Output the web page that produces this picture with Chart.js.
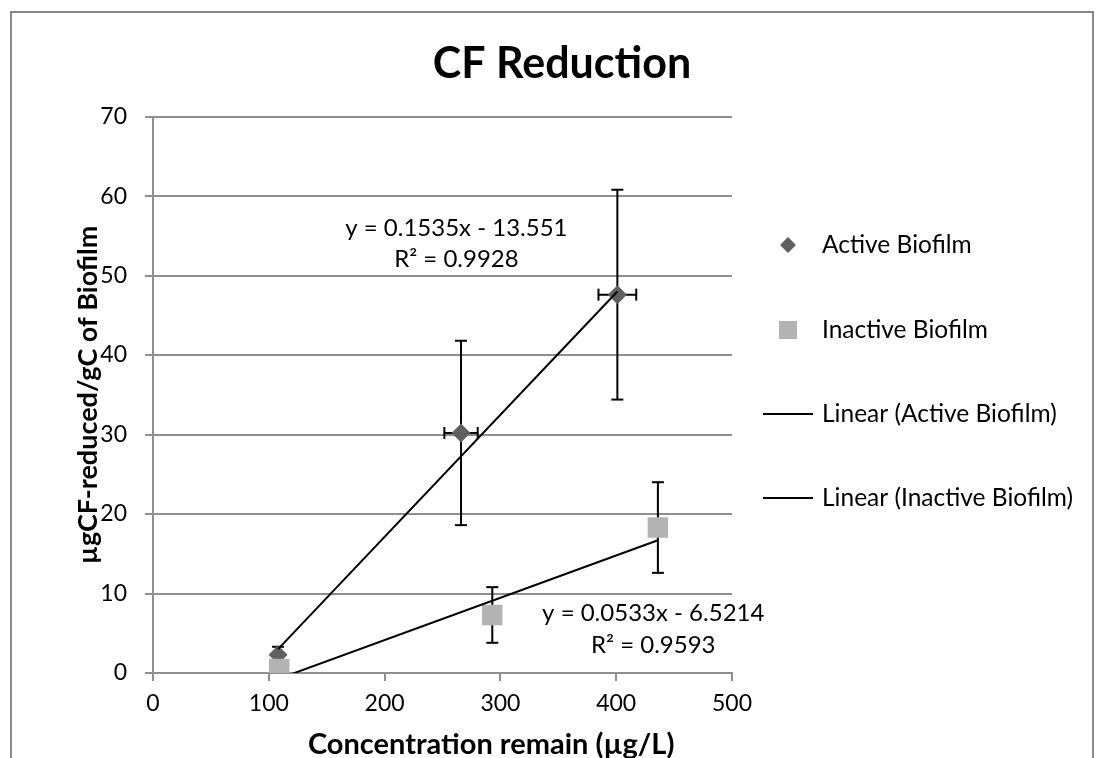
<!DOCTYPE html>
<html lang="en">
<head>
    <meta charset="UTF-8">
    <title>CF Reduction</title>
    <script src="https://cdn.jsdelivr.net/npm/chart.js"></script>
    <style>
        html, body {
            margin: 0;
            padding: 0;
            background: #fff;
            overflow: hidden;
        }
        #wrap {
            position: relative;
            width: 1104px;
            height: 758px;
        }
        #frame {
            position: absolute;
            left: 10px;
            top: 11px;
            width: 1080px;
            height: 780px;
            border: 2px solid #888;
            border-bottom: none;
            pointer-events: none;
        }
    </style>
</head>
<body>
<div id="wrap">
    <canvas id="cfChart" width="1104" height="758"></canvas>
    <div id="frame"></div>
</div>

<script>
    // Active biofilm points (x = concentration remain, y = reduced per gC)
    const activeX = [108, 266, 401];
    const activeY = [2.3, 30.2, 47.6];
    const activeXErr = [0, 14.4, 16.3];
    const activeYErr = [1.0, 11.6, 13.2];

    // Inactive biofilm points
    const inactiveX = [109, 293, 436];
    const inactiveY = [0.5, 7.3, 18.3];
    const inactiveYErr = [0, 3.5, 5.7];

    // trendline end points as drawn by Excel
    const activeTrendX = [108, 401];
    const activeTrendY = [3.0, 48.0];
    const inactiveTrendX = [109, 436];
    const inactiveTrendY = [-0.7, 16.7];

    const seriesLabels = ['Active Biofilm', 'Inactive Biofilm', 'Linear (Active Biofilm)', 'Linear (Inactive Biofilm)'];
    const activeEq = ['y = 0.1535x - 13.551', 'R² = 0.9928'];
    const inactiveEq = ['y = 0.0533x - 6.5214', 'R² = 0.9593'];
    const xTitle = 'Concentration remain (µg/L)';

    const FONT = "Lato, 'Open Sans', sans-serif";
    const GRID = '#8f8f8f';

    const toPoints = (xs, ys) => xs.map((x, i) => ({x: x, y: ys[i]}));

    function seg(ctx, x1, y1, x2, y2) {
        ctx.beginPath();
        ctx.moveTo(x1, y1);
        ctx.lineTo(x2, y2);
        ctx.stroke();
    }

    // error bars under the markers, equations + legend on top
    const extras = {
        id: 'extras',
        beforeDatasetsDraw(chart) {
            const {ctx, scales: {x, y}} = chart;
            const cap = 6;
            ctx.save();
            ctx.strokeStyle = '#000';
            ctx.lineWidth = 2;
            const sets = [
                [activeX, activeY, activeXErr, activeYErr],
                [inactiveX, inactiveY, null, inactiveYErr]
            ];
            sets.forEach(([xs, ys, xe, ye]) => {
                xs.forEach((xv, i) => {
                    const px = x.getPixelForValue(xv);
                    const py = y.getPixelForValue(ys[i]);
                    if (ye[i]) {
                        const t = y.getPixelForValue(ys[i] + ye[i]);
                        const b = y.getPixelForValue(ys[i] - ye[i]);
                        seg(ctx, px, t, px, b);
                        seg(ctx, px - cap, t, px + cap, t);
                        seg(ctx, px - cap, b, px + cap, b);
                    }
                    if (xe && xe[i]) {
                        const l = x.getPixelForValue(xv - xe[i]);
                        const r = x.getPixelForValue(xv + xe[i]);
                        seg(ctx, l, py, r, py);
                        seg(ctx, l, py - cap, l, py + cap);
                        seg(ctx, r, py - cap, r, py + cap);
                    }
                });
            });
            ctx.restore();
        },
        afterDraw(chart) {
            const {ctx, chartArea, scales: {x, y}} = chart;
            ctx.save();
            ctx.fillStyle = '#000';
            ctx.font = '24px ' + FONT;
            ctx.textAlign = 'center';
            ctx.textBaseline = 'middle';
            // trendline labels
            const ax = x.getPixelForValue(262);
            ctx.fillText(activeEq[0], ax, y.getPixelForValue(56.0));
            ctx.fillText(activeEq[1], ax, y.getPixelForValue(52.1));
            const ix = x.getPixelForValue(432);
            ctx.fillText(inactiveEq[0], ix, y.getPixelForValue(7.55));
            ctx.fillText(inactiveEq[1], ix, y.getPixelForValue(3.5));

            // x axis title (sits right of the plot centre in the original)
            ctx.font = 'bold 29px ' + FONT;
            ctx.fillText(xTitle, x.getPixelForValue(292), 745);

            // legend
            const mx = chartArea.right + 56;
            const tx = chartArea.right + 90;
            const rowY = [245, 330, 414, 498];
            ctx.font = '24.5px ' + FONT;
            ctx.textAlign = 'left';
            seriesLabels.forEach((lab, i) => {
                const yy = rowY[i];
                if (i === 0) {
                    ctx.fillStyle = '#606060';
                    ctx.beginPath();
                    ctx.moveTo(mx - 8, yy);
                    ctx.lineTo(mx, yy - 8);
                    ctx.lineTo(mx + 8, yy);
                    ctx.lineTo(mx, yy + 8);
                    ctx.closePath();
                    ctx.fill();
                } else if (i === 1) {
                    ctx.fillStyle = '#b3b3b3';
                    ctx.fillRect(mx - 9, yy - 9, 18, 18);
                } else {
                    ctx.strokeStyle = '#000';
                    ctx.lineWidth = 2;
                    seg(ctx, mx - 25, yy, mx + 25, yy);
                }
                ctx.fillStyle = '#000';
                ctx.fillText(lab, tx, yy);
            });
            ctx.restore();
        }
    };

    Chart.defaults.color = '#000';
    Chart.defaults.font.family = FONT;

    const ctx = document.getElementById('cfChart').getContext('2d');
    const cfChart = new Chart(ctx, {
        type: 'scatter',
        data: {
            datasets: [
                {
                    label: seriesLabels[2],
                    type: 'line',
                    data: toPoints(activeTrendX, activeTrendY),
                    borderColor: '#000',
                    borderWidth: 2,
                    pointRadius: 0,
                    showLine: true,
                    clip: 0,
                    order: 0
                },
                {
                    label: seriesLabels[3],
                    type: 'line',
                    data: toPoints(inactiveTrendX, inactiveTrendY),
                    borderColor: '#000',
                    borderWidth: 2,
                    pointRadius: 0,
                    showLine: true,
                    clip: 0,
                    order: 0
                },
                {
                    label: seriesLabels[1],
                    data: toPoints(inactiveX, inactiveY),
                    pointStyle: 'rect',
                    pointRadius: 14.5,
                    backgroundColor: '#b3b3b3',
                    borderColor: '#b3b3b3',
                    borderWidth: 0,
                    order: 1
                },
                {
                    label: seriesLabels[0],
                    data: toPoints(activeX, activeY),
                    pointStyle: 'rectRot',
                    pointRadius: 9.5,
                    backgroundColor: '#606060',
                    borderColor: '#606060',
                    borderWidth: 0,
                    order: 2
                }
            ]
        },
        options: {
            responsive: false,
            animation: false,
            layout: { padding: { left: 20, right: 0, top: 0, bottom: 0 } },
            plugins: {
                legend: { display: false },
                tooltip: { enabled: false },
                title: {
                    display: true,
                    text: 'CF Reduction',
                    font: { size: 43, weight: 'bold', lineHeight: 1.2 },
                    padding: { top: 38, bottom: 27 },
                    color: '#000'
                }
            },
            scales: {
                x: {
                    type: 'linear',
                    min: 0,
                    max: 500,
                    ticks: { stepSize: 100, padding: 9, font: { size: 23 } },
                    grid: { drawOnChartArea: false, drawTicks: true, tickLength: 8, color: GRID, lineWidth: 2 },
                    border: { color: GRID, width: 2 },
                    afterFit(s) { s.height = 85; }
                },
                y: {
                    min: 0,
                    max: 70,
                    ticks: { stepSize: 10, padding: 18, font: { size: 23 } },
                    grid: { color: GRID, lineWidth: 2, tickLength: 8 },
                    border: { color: GRID, width: 2 },
                    title: {
                        display: true,
                        text: 'µgCF-reduced/gC of Biofilm',
                        font: { size: 27, weight: 'bold', lineHeight: 1.2 },
                        padding: { top: 52, bottom: 0 }
                    },
                    afterFit(s) { s.width = 133; }
                },
                // empty right-hand space where the legend sits
                side: {
                    position: 'right',
                    display: true,
                    ticks: { display: false },
                    grid: { display: false },
                    border: { display: false },
                    afterFit(s) { s.width = 372; }
                }
            }
        },
        plugins: [extras]
    });
</script>
</body>
</html>
